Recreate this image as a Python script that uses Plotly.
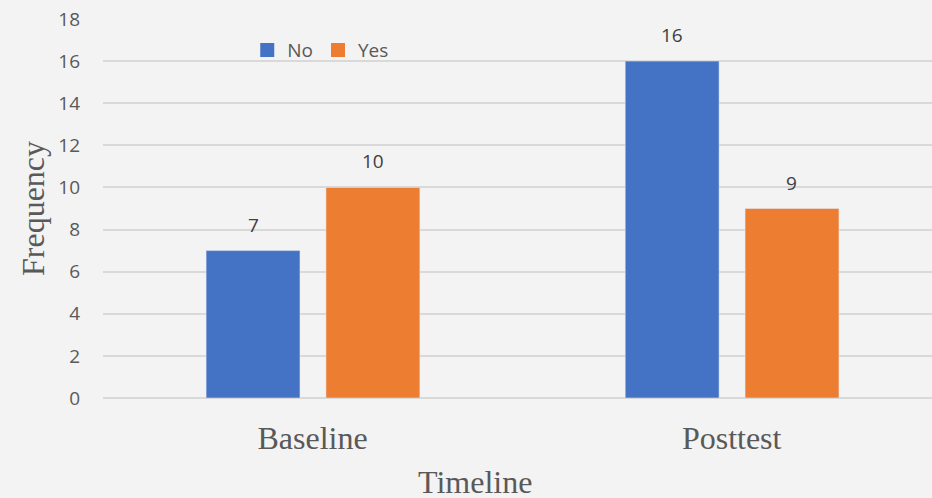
import plotly.graph_objects as go

categories = ["Baseline", "Posttest"]
no_values = [7, 16]
yes_values = [10, 9]
y_ticks = [0, 2, 4, 6, 8, 10, 12, 14, 16, 18]

sans = "Open Sans, Noto Sans, sans-serif"
serif = "Liberation Serif, Times New Roman, serif"
grey = "#595959"
blue = "#4472C4"
orange = "#ED7D31"

bar_w = 0.224
fig = go.Figure()
fig.add_trace(go.Bar(name="No", x=categories, y=no_values, marker_color=blue,
                     width=bar_w, offset=-0.254, showlegend=False))
fig.add_trace(go.Bar(name="Yes", x=categories, y=yes_values, marker_color=orange,
                     width=bar_w, offset=0.032, showlegend=False))
# legend entries with larger square swatches
for name, col in (("No", blue), ("Yes", orange)):
    fig.add_trace(go.Scatter(name=name, x=[None], y=[None], mode="markers",
                             marker=dict(symbol="square", size=14, color=col)))

for vals, shift in ((no_values, -59.5), (yes_values, 60)):
    for c, v in zip(categories, vals):
        fig.add_annotation(x=c, y=v, text=str(v), showarrow=False, xshift=shift,
                           yanchor="bottom", yshift=11,
                           font=dict(family=sans, size=19, color="#404040"))

# x-axis title (placed as in the original, left of centre)
fig.add_annotation(text="Timeline", xref="paper", yref="paper", x=0.449, y=-0.2216,
                   xanchor="center", yanchor="middle", showarrow=False,
                   font=dict(family=serif, size=32, color=grey))

fig.update_layout(
    width=932, height=498,
    margin=dict(l=103, r=0, t=19, b=100),
    paper_bgcolor="#f3f3f3", plot_bgcolor="#f3f3f3",
    barmode="group",
    showlegend=True,
    legend=dict(orientation="h", x=0.174, y=0.918, xanchor="left", yanchor="middle",
                font=dict(family=sans, size=19, color=grey), bgcolor="rgba(0,0,0,0)",
                itemwidth=30, tracegroupgap=0),
    xaxis=dict(range=[-0.5, 1.478], showgrid=False, zeroline=False, showline=False,
               automargin=False,
               tickfont=dict(family=serif, size=32, color=grey), ticks="", ticklabelstandoff=18),
    yaxis=dict(range=[0, 18], tickvals=y_ticks, showgrid=True, gridcolor="#d9d9d9", gridwidth=2,
               zeroline=True, zerolinecolor="#d9d9d9", zerolinewidth=2, automargin=False,
               tickfont=dict(family=sans, size=19, color=grey), ticklabelstandoff=22,
               title=dict(text="Frequency", font=dict(family=serif, size=32, color=grey), standoff=4)),
)

fig.write_html("out.html")
